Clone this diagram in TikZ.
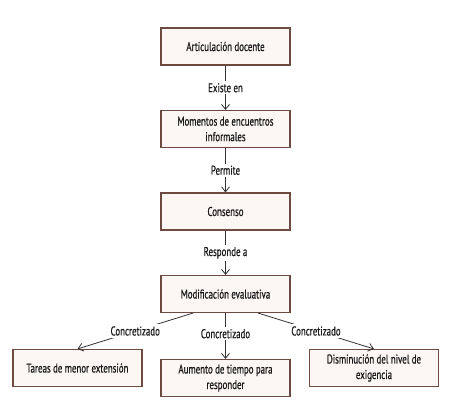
\documentclass[tikz,border=0pt]{standalone}
\usepackage{fontspec}
\setmainfont[FakeStretch=0.7,FakeBold=0.6]{PT Sans}
\usetikzlibrary{arrows.meta,calc}
\definecolor{boxfill}{HTML}{FCF6F4}
\definecolor{boxline}{HTML}{6E4B40}
\definecolor{lin}{HTML}{333333}
\begin{document}
\begin{tikzpicture}[x=1pt,y=-1pt,
  every node/.style={font=\fontsize{12.7}{15.5}\selectfont, text=black!90},
  boxn/.style={draw=boxline, line width=1.1pt, fill=boxfill, minimum width=129pt, minimum height=37pt, align=flush center, inner sep=2pt, text width=125pt},
  conn/.style={draw=lin, line width=0.8pt, -{Straight Barb[length=5pt,width=8pt,line width=0.8pt]}},
  lab/.style={fill=white, inner sep=2pt}
]
\useasboundingbox (0,0) rectangle (451,402);
\node[boxn] (a) at (225.5,46.5) {Articulación docente};
\node[boxn] (b) at (225.5,129) {Momentos de encuentros\\informales};
\node[boxn] (c) at (225.5,211.5) {Consenso};
\node[boxn] (d) at (225.5,294) {Modificación evaluativa};
\node[boxn] (l) at (77.5,368) {Tareas de menor extensión};
\node[boxn] (m) at (225.5,378) {Aumento de tiempo para\\responder};
\node[boxn] (r) at (374,368) {Disminución del nivel de\\exigencia};
\coordinate (dl) at ($(d.south west)!0.25!(d.south east)$);
\coordinate (dr) at ($(d.south west)!0.75!(d.south east)$);
\draw[conn] (a) -- node[lab]{Existe en} (b);
\draw[conn] (b) -- node[lab]{Permite} (c);
\draw[conn] (c) -- node[lab]{Responde a} (d);
\draw[conn] (dl) -- node[lab]{Concretizado} (l.north);
\draw[conn] (d) -- node[lab,pos=0.45]{Concretizado} (m);
\draw[conn] (dr) -- node[lab]{Concretizado} (r.north);
\end{tikzpicture}
\end{document}
